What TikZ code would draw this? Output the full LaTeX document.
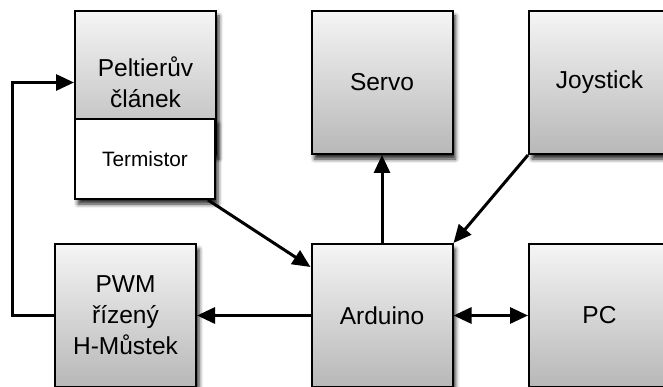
\documentclass[tikz,border=0pt]{standalone}
\usepackage{fontspec}
\setmainfont{Liberation Sans}
\usetikzlibrary{arrows.meta,shadows.blur}
\begin{document}
\begin{tikzpicture}[x=1pt,y=-1pt,
  blockbox/.style={draw=black, line width=2pt, minimum width=141pt, minimum height=143pt,
    top color=black!4, bottom color=black!28, align=center, font=\fontsize{24.5}{31}\selectfont,
    blur shadow={shadow xshift=3pt, shadow yshift=-5pt, shadow blur radius=4pt, shadow opacity=85}},
  termbox/.style={draw=black, line width=2pt, minimum width=140pt, minimum height=80pt,
    fill=white, font=\fontsize{20.8}{25}\selectfont,
    blur shadow={shadow xshift=3pt, shadow yshift=-5pt, shadow blur radius=4pt, shadow opacity=85}},
  arr/.style={line width=3pt, -{Triangle[length=18pt,width=16pt]}},
  biarr/.style={line width=3pt, {Triangle[length=18pt,width=16pt]}-{Triangle[length=18pt,width=16pt]}}]
\useasboundingbox (0,0) rectangle (663,387);
\node[blockbox] (pelt) at (145.5,82.5) {Peltierův\\článek};
\node[blockbox] (servo) at (382,82.5) {Servo};
\node[blockbox] (joy) at (599.5,82.5) {Joystick};
\node[blockbox] (pwm) at (125.5,315.5) {PWM\\řízený\\H-Můstek};
\node[blockbox] (ard) at (382,315.5) {Arduino};
\node[blockbox] (pc) at (599.5,315.5) {PC};
\node[termbox] (term) at (145,159) {Termistor};
\draw[arr] (pwm.west) -- ++(-42,0) |- (pelt.west);
\draw[arr] (ard.north) -- (servo.south);
\draw[arr] (joy.south west) -- (ard.north east);
\draw[arr] ([xshift=-8pt]term.south east) -- ([yshift=-24pt]ard.north west);
\draw[arr] (ard.west) -- (pwm.east);
\draw[biarr] (ard.east) -- (pc.west);
\end{tikzpicture}
\end{document}
